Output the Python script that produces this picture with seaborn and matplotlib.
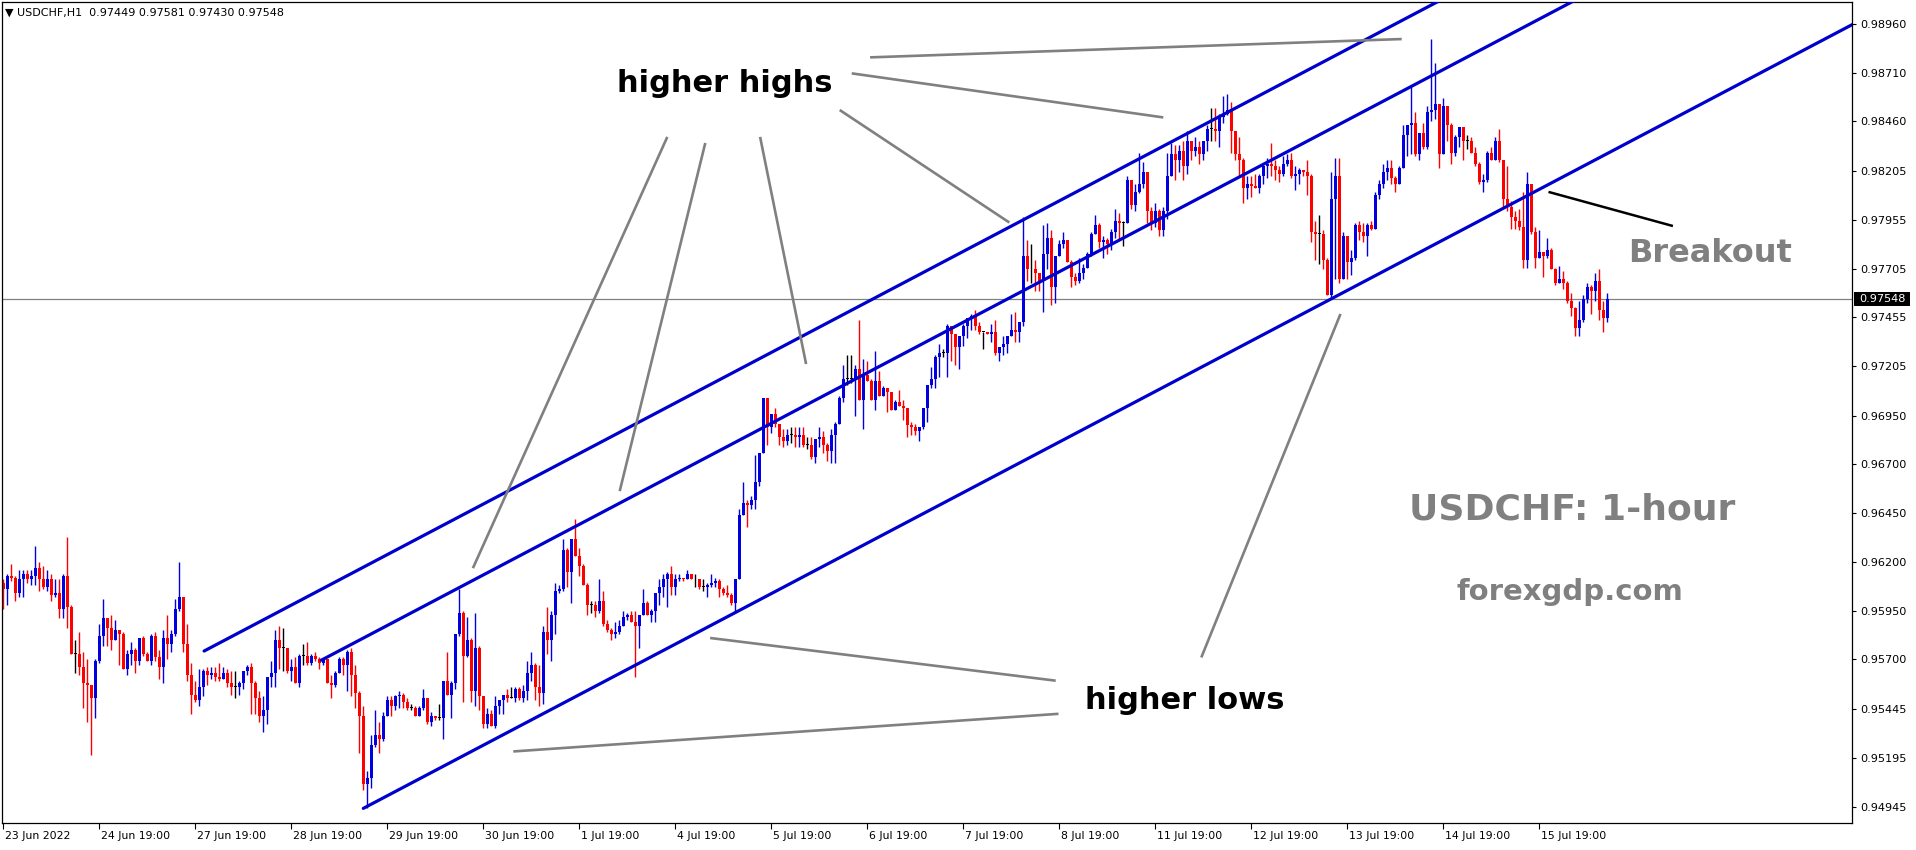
import matplotlib
matplotlib.use("Agg")
import matplotlib.pyplot as plt
from matplotlib.patches import Rectangle
import numpy as np
import pandas as pd
import seaborn as sns

# ---------------------------------------------------------------- data
symbol = "USDCHF,H1"
first_open = 9609  # prices are stored as price x 10 000 (pips)

close_pips = [
    9606, 9613, 9612, 9604, 9611, 9614, 9611, 9613, 9617, 9611, 9607, 9611, 9603, 9604, 9596, 9613,
    9597, 9573, 9573, 9566, 9558, 9557, 9550, 9569, 9582, 9591, 9586, 9580, 9585, 9583, 9565, 9573,
    9575, 9569, 9581, 9573, 9569, 9582, 9571, 9566, 9581, 9578, 9583, 9596, 9602, 9578, 9562, 9552,
    9549, 9556, 9564, 9562, 9563, 9561, 9560, 9563, 9558, 9556, 9556, 9558, 9564, 9566, 9558, 9550,
    9541, 9544, 9561, 9563, 9580, 9576, 9576, 9564, 9566, 9558, 9572, 9572, 9568, 9572, 9570, 9568,
    9570, 9558, 9557, 9563, 9570, 9567, 9574, 9562, 9553, 9541, 9506, 9509, 9526, 9531, 9529, 9541,
    9549, 9546, 9551, 9552, 9548, 9545, 9545, 9541, 9545, 9550, 9538, 9541, 9540, 9540, 9559, 9552,
    9558, 9583, 9594, 9572, 9580, 9554, 9576, 9551, 9537, 9542, 9536, 9546, 9549, 9552, 9550, 9550,
    9555, 9550, 9554, 9563, 9567, 9556, 9553, 9584, 9580, 9593, 9605, 9606, 9626, 9615, 9632, 9623,
    9618, 9608, 9598, 9598, 9595, 9600, 9588, 9585, 9583, 9584, 9587, 9592, 9593, 9589, 9587, 9593,
    9599, 9593, 9595, 9604, 9607, 9611, 9614, 9607, 9611, 9612, 9611, 9614, 9611, 9611, 9607, 9607,
    9608, 9609, 9610, 9606, 9604, 9603, 9599, 9611, 9644, 9650, 9649, 9652, 9661, 9676, 9704, 9689,
    9696, 9691, 9684, 9682, 9685, 9685, 9684, 9685, 9680, 9680, 9674, 9683, 9684, 9680, 9677, 9685,
    9691, 9704, 9714, 9714, 9714, 9719, 9703, 9716, 9713, 9703, 9713, 9705, 9709, 9707, 9698, 9702,
    9700, 9699, 9690, 9689, 9687, 9689, 9699, 9711, 9714, 9725, 9727, 9727, 9741, 9737, 9730, 9736,
    9741, 9745, 9746, 9741, 9738, 9738, 9737, 9738, 9727, 9730, 9732, 9736, 9739, 9738, 9743, 9777,
    9770, 9770, 9768, 9764, 9778, 9786, 9761, 9777, 9783, 9785, 9774, 9766, 9764, 9768, 9771, 9778,
    9788, 9793, 9784, 9785, 9783, 9789, 9795, 9794, 9794, 9816, 9803, 9810, 9814, 9820, 9800, 9794,
    9800, 9790, 9800, 9818, 9829, 9826, 9831, 9823, 9836, 9831, 9833, 9829, 9836, 9842, 9842, 9841,
    9848, 9850, 9852, 9841, 9829, 9826, 9812, 9814, 9813, 9812, 9818, 9823, 9824, 9823, 9821, 9819,
    9824, 9826, 9818, 9819, 9821, 9820, 9818, 9789, 9788, 9788, 9775, 9757, 9806, 9818, 9765, 9787,
    9774, 9776, 9793, 9789, 9787, 9793, 9791, 9808, 9814, 9820, 9822, 9817, 9814, 9822, 9839, 9844,
    9845, 9829, 9840, 9833, 9851, 9852, 9855, 9829, 9854, 9844, 9830, 9838, 9843, 9836, 9836, 9830,
    9824, 9815, 9816, 9830, 9826, 9836, 9826, 9806, 9802, 9797, 9795, 9792, 9775, 9814, 9789, 9776,
    9779, 9777, 9780, 9770, 9763, 9765, 9763, 9754, 9750, 9740, 9744, 9755, 9761, 9759, 9764, 9749,
    9744.9, 9754.8,
]

high_pips = [
    9611, 9614, 9619, 9613, 9616, 9616, 9616, 9616, 9628, 9620, 9618, 9616, 9614, 9611, 9611, 9614,
    9633, 9598, 9580, 9584, 9574, 9570, 9557, 9570, 9588, 9601, 9591, 9593, 9590, 9585, 9584, 9575,
    9579, 9576, 9581, 9582, 9574, 9583, 9584, 9575, 9585, 9593, 9585, 9601, 9620, 9602, 9588, 9568,
    9559, 9565, 9565, 9566, 9566, 9566, 9568, 9566, 9565, 9564, 9564, 9559, 9564, 9567, 9568, 9559,
    9554, 9551, 9561, 9569, 9585, 9587, 9586, 9576, 9570, 9571, 9573, 9578, 9579, 9573, 9574, 9571,
    9570, 9570, 9562, 9564, 9571, 9571, 9575, 9576, 9567, 9554, 9546, 9513, 9531, 9544, 9538, 9543,
    9551, 9551, 9552, 9554, 9553, 9550, 9547, 9546, 9546, 9555, 9549, 9543, 9541, 9547, 9559, 9574,
    9559, 9583, 9606, 9595, 9592, 9581, 9594, 9577, 9551, 9545, 9544, 9551, 9549, 9552, 9555, 9556,
    9556, 9556, 9557, 9569, 9574, 9568, 9567, 9587, 9597, 9595, 9609, 9608, 9632, 9627, 9632, 9642,
    9627, 9619, 9609, 9600, 9600, 9611, 9605, 9590, 9586, 9589, 9590, 9595, 9594, 9595, 9595, 9593,
    9606, 9600, 9596, 9604, 9611, 9614, 9615, 9618, 9614, 9614, 9612, 9616, 9614, 9614, 9611, 9611,
    9609, 9614, 9612, 9611, 9607, 9608, 9604, 9611, 9647, 9661, 9652, 9654, 9675, 9676, 9704, 9704,
    9696, 9699, 9691, 9688, 9688, 9689, 9689, 9689, 9689, 9684, 9684, 9683, 9689, 9687, 9681, 9688,
    9692, 9705, 9721, 9726, 9726, 9721, 9744, 9724, 9723, 9714, 9728, 9718, 9710, 9709, 9706, 9703,
    9708, 9703, 9699, 9692, 9691, 9689, 9699, 9711, 9720, 9726, 9732, 9729, 9742, 9741, 9736, 9736,
    9742, 9745, 9747, 9749, 9743, 9738, 9738, 9742, 9744, 9730, 9736, 9736, 9747, 9748, 9743, 9797,
    9785, 9783, 9775, 9768, 9793, 9794, 9790, 9777, 9785, 9789, 9785, 9775, 9768, 9776, 9773, 9779,
    9789, 9798, 9794, 9787, 9786, 9791, 9801, 9799, 9795, 9818, 9816, 9814, 9830, 9825, 9820, 9802,
    9804, 9801, 9802, 9830, 9835, 9834, 9834, 9836, 9841, 9836, 9838, 9836, 9836, 9844, 9853, 9853,
    9850, 9859, 9860, 9856, 9841, 9838, 9827, 9818, 9818, 9819, 9819, 9823, 9827, 9835, 9826, 9823,
    9828, 9829, 9830, 9823, 9822, 9821, 9826, 9819, 9795, 9798, 9790, 9776, 9820, 9827, 9827, 9789,
    9787, 9780, 9794, 9795, 9794, 9794, 9795, 9810, 9816, 9824, 9826, 9826, 9818, 9823, 9844, 9844,
    9864, 9851, 9840, 9845, 9854, 9888, 9876, 9855, 9858, 9854, 9845, 9839, 9843, 9841, 9839, 9838,
    9833, 9825, 9819, 9831, 9833, 9838, 9842, 9826, 9823, 9805, 9800, 9801, 9810, 9820, 9814, 9792,
    9790, 9779, 9786, 9781, 9771, 9772, 9769, 9764, 9758, 9751, 9754, 9757, 9763, 9762, 9768, 9770,
    9754, 9758.1,
]

low_pips = [
    9596, 9598, 9610, 9600, 9602, 9602, 9609, 9608, 9608, 9605, 9606, 9605, 9600, 9602, 9591, 9591,
    9586, 9573, 9563, 9562, 9545, 9538, 9521, 9540, 9568, 9577, 9577, 9575, 9580, 9567, 9565, 9562,
    9567, 9563, 9567, 9572, 9569, 9567, 9569, 9560, 9558, 9570, 9574, 9582, 9595, 9574, 9559, 9542,
    9548, 9546, 9551, 9557, 9560, 9559, 9559, 9560, 9556, 9552, 9550, 9552, 9555, 9562, 9542, 9542,
    9538, 9533, 9537, 9556, 9556, 9565, 9564, 9563, 9559, 9558, 9556, 9567, 9567, 9567, 9569, 9565,
    9567, 9558, 9550, 9556, 9563, 9562, 9554, 9551, 9545, 9522, 9503, 9494, 9504, 9525, 9522, 9528,
    9541, 9541, 9544, 9545, 9545, 9544, 9544, 9541, 9541, 9544, 9537, 9536, 9539, 9539, 9529, 9552,
    9540, 9555, 9582, 9548, 9571, 9548, 9546, 9544, 9535, 9535, 9536, 9535, 9542, 9542, 9548, 9550,
    9548, 9549, 9548, 9549, 9559, 9549, 9546, 9547, 9573, 9569, 9583, 9604, 9605, 9607, 9599, 9623,
    9613, 9608, 9593, 9594, 9592, 9594, 9587, 9584, 9580, 9581, 9583, 9587, 9590, 9589, 9561, 9576,
    9593, 9593, 9589, 9589, 9598, 9602, 9597, 9603, 9603, 9610, 9610, 9611, 9611, 9607, 9606, 9605,
    9602, 9607, 9607, 9602, 9603, 9602, 9598, 9594, 9611, 9644, 9638, 9647, 9647, 9659, 9676, 9680,
    9686, 9689, 9680, 9679, 9680, 9681, 9679, 9679, 9679, 9678, 9673, 9671, 9679, 9676, 9672, 9671,
    9671, 9691, 9702, 9711, 9712, 9695, 9703, 9688, 9713, 9703, 9698, 9705, 9705, 9697, 9698, 9698,
    9700, 9693, 9684, 9685, 9685, 9682, 9688, 9692, 9709, 9709, 9715, 9725, 9715, 9723, 9721, 9719,
    9731, 9735, 9739, 9739, 9737, 9729, 9737, 9733, 9726, 9723, 9726, 9727, 9736, 9733, 9733, 9741,
    9764, 9763, 9759, 9759, 9748, 9770, 9752, 9753, 9777, 9781, 9774, 9761, 9762, 9763, 9765, 9771,
    9777, 9788, 9781, 9776, 9778, 9780, 9786, 9785, 9782, 9794, 9801, 9800, 9809, 9812, 9794, 9790,
    9792, 9787, 9787, 9796, 9818, 9816, 9820, 9816, 9819, 9826, 9828, 9824, 9826, 9831, 9836, 9836,
    9833, 9845, 9849, 9830, 9826, 9818, 9804, 9806, 9807, 9812, 9809, 9814, 9817, 9818, 9816, 9815,
    9818, 9823, 9817, 9811, 9814, 9818, 9808, 9784, 9775, 9773, 9770, 9757, 9755, 9765, 9763, 9765,
    9765, 9767, 9775, 9785, 9784, 9777, 9790, 9791, 9806, 9812, 9816, 9814, 9810, 9814, 9822, 9828,
    9829, 9828, 9826, 9832, 9832, 9846, 9847, 9822, 9829, 9836, 9824, 9828, 9833, 9826, 9832, 9830,
    9823, 9814, 9810, 9815, 9826, 9826, 9825, 9802, 9800, 9791, 9791, 9790, 9771, 9771, 9788, 9771,
    9776, 9766, 9776, 9770, 9762, 9765, 9760, 9753, 9746, 9736, 9736, 9743, 9753, 9747, 9754, 9744,
    9738, 9743.0,
]

x_tick_bars = [0, 24, 48, 72, 96, 120, 144, 168, 192, 216, 240, 264, 288, 312, 336, 360, 384]
x_tick_labels = ["23 Jun 2022", "24 Jun 19:00", "27 Jun 19:00", "28 Jun 19:00", "29 Jun 19:00",
                 "30 Jun 19:00", "1 Jul 19:00", "4 Jul 19:00", "5 Jul 19:00", "6 Jul 19:00",
                 "7 Jul 19:00", "8 Jul 19:00", "11 Jul 19:00", "12 Jul 19:00", "13 Jul 19:00",
                 "14 Jul 19:00", "15 Jul 19:00"]
y_tick_labels = ["0.98960", "0.98710", "0.98460", "0.98205", "0.97955", "0.97705", "0.97455",
                 "0.97205", "0.96950", "0.96700", "0.96450", "0.96200", "0.95950", "0.95700",
                 "0.95445", "0.95195", "0.94945"]

# trend-channel objects (anchor bar, anchor price in pips, slope in pips per bar)
channel_names = ["upper", "middle", "lower"]
channel_start_bar = [50.2, 79.5, 90.0]
channel_start_pips = [9574.3, 9569.6, 9493.6]
channel_slope = 1.08

# pointer objects: (bar0, pips0, bar1, pips1)
highs_pointers = [(216.7, 9878.8, 349.6, 9888.2), (212.1, 9870.6, 290.0, 9848.0),
                  (209.1, 9851.8, 251.5, 9794.1), (189.2, 9838.0, 200.7, 9721.5),
                  (175.5, 9834.9, 154.1, 9656.3), (166.0, 9838.0, 117.4, 9616.8)]
lows_pointers = [(263.1, 9559.1, 176.7, 9581.0), (263.8, 9542.1, 127.5, 9522.8),
                 (299.5, 9571.0, 334.3, 9747.2)]
breakout_pointer = (386.3, 9809.8, 417.4, 9792.3)

# ---------------------------------------------------------------- style
sns.set_theme(style="white")
plt.rcParams["font.family"] = ["DejaVu Sans"]

BLUE = "#0000E0"
RED = "#FF0000"
LINE_BLUE = "#0000CD"
GRAY = "#808080"

W, H = 1916, 850
fig = plt.figure(figsize=(W / 100, H / 100), dpi=100, facecolor="white")
ax_left, ax_right, ax_top, ax_bottom = 2, 1852, 2, 823
ax = fig.add_axes([ax_left / W, 1 - ax_bottom / H, (ax_right - ax_left) / W, (ax_bottom - ax_top) / H])
ax.set_facecolor("white")

n = len(close_pips)
bars = np.arange(n)
c = np.array(close_pips, dtype=float) / 1e4
o = np.concatenate([[first_open / 1e4], c[:-1]])
hi = np.maximum(np.array(high_pips, dtype=float) / 1e4, np.maximum(o, c))
lo = np.minimum(np.array(low_pips, dtype=float) / 1e4, np.minimum(o, c))
colors = np.where(c > o + 1e-9, BLUE, np.where(c < o - 1e-9, RED, "black"))

x_left = (ax_left - 3.3) / 4.0
x_right = (ax_right - 3.3) / 4.0
ax.set_xlim(x_left, x_right)
ax.set_ylim(0.948610, 0.990720)

# candles
ax.vlines(bars, lo, hi, colors=colors, linewidth=1.0, zorder=2)
body_h = np.maximum(np.abs(c - o), 0.00005)
ax.bar(bars, body_h, bottom=np.minimum(o, c), width=0.75, color=colors, linewidth=0, zorder=2)

# current price line
ax.axhline(c[-1], color=GRAY, linewidth=0.9, zorder=1)

# channel lines through seaborn
rows = []
for name, b0, p0 in zip(channel_names, channel_start_bar, channel_start_pips):
    rows.append({"line": name, "bar": b0, "price": p0 / 1e4})
    rows.append({"line": name, "bar": x_right + 5, "price": (p0 + channel_slope * (x_right + 5 - b0)) / 1e4})
df_lines = pd.DataFrame(rows)
sns.lineplot(data=df_lines, x="bar", y="price", units="line", estimator=None, sort=False,
             color=LINE_BLUE, linewidth=2.3, ax=ax, legend=False, zorder=4)

for b0, p0, b1, p1 in highs_pointers + lows_pointers:
    ax.plot([b0, b1], [p0 / 1e4, p1 / 1e4], color=GRAY, linewidth=1.9, solid_capstyle="butt", zorder=4)
b0, p0, b1, p1 = breakout_pointer
ax.plot([b0, b1], [p0 / 1e4, p1 / 1e4], color="black", linewidth=1.8, solid_capstyle="butt", zorder=4)

# labels
ax.text(153.4, 0.98610, "higher highs", color="black", fontsize=22, fontweight="bold",
        ha="left", va="baseline", zorder=5)
ax.text(270.4, 0.95446, "higher lows", color="black", fontsize=22, fontweight="bold",
        ha="left", va="baseline", zorder=5)
ax.text(406.2, 0.97738, "Breakout", color=GRAY, fontsize=23, fontweight="bold",
        ha="left", va="baseline", zorder=5)
ax.text(351.4, 0.96420, "USDCHF: 1-hour", color=GRAY, fontsize=26, fontweight="bold",
        ha="left", va="baseline", zorder=5)
ax.text(363.4, 0.96005, "forexgdp.com", color=GRAY, fontsize=21, fontweight="bold",
        ha="left", va="baseline", zorder=5)

# header
fig.text(5 / W, 1 - 13 / H,
         f"\u25bc {symbol}  {o[-1]:.5f} {hi[-1]:.5f} {lo[-1]:.5f} {c[-1]:.5f}",
         fontsize=8, color="black", ha="left", va="center")

# axes / ticks
for s in ax.spines.values():
    s.set_visible(True)
    s.set_color("black")
    s.set_linewidth(0.9)

ax.yaxis.tick_right()
ax.set_yticks([float(t) for t in y_tick_labels])
ax.set_yticklabels(y_tick_labels)
ax.tick_params(axis="y", which="both", direction="out", length=3, width=0.8, colors="black",
               labelsize=8.1, pad=3, right=True, left=False, labelright=True, labelleft=False)

ax.set_xticks(x_tick_bars)
ax.set_xticklabels([""] * len(x_tick_bars))
ax.tick_params(axis="x", direction="out", length=4, width=0.8, colors="black", bottom=True,
               labelbottom=False)
for b, lab in zip(x_tick_bars, x_tick_labels):
    ax.annotate(lab, xy=(b, 0), xycoords=("data", "axes fraction"), xytext=(1, -6),
                textcoords="offset points", ha="left", va="top", fontsize=7.8, color="black",
                annotation_clip=False)

# current price box on the axis
y_px = ax.transData.transform((0, c[-1]))[1]
fig.patches.append(Rectangle((ax_right + 1.5, y_px - 6.7), 56.5, 13.4, transform=None,
                             facecolor="black", edgecolor="none", zorder=6))
fig.text((ax_right + 7) / W, y_px / H, f"{c[-1]:.5f}", fontsize=8.1, color="white",
         ha="left", va="center", zorder=7)

ax.set_xlabel("")
ax.set_ylabel("")
fig.savefig("out.png", dpi=100, facecolor="white")
